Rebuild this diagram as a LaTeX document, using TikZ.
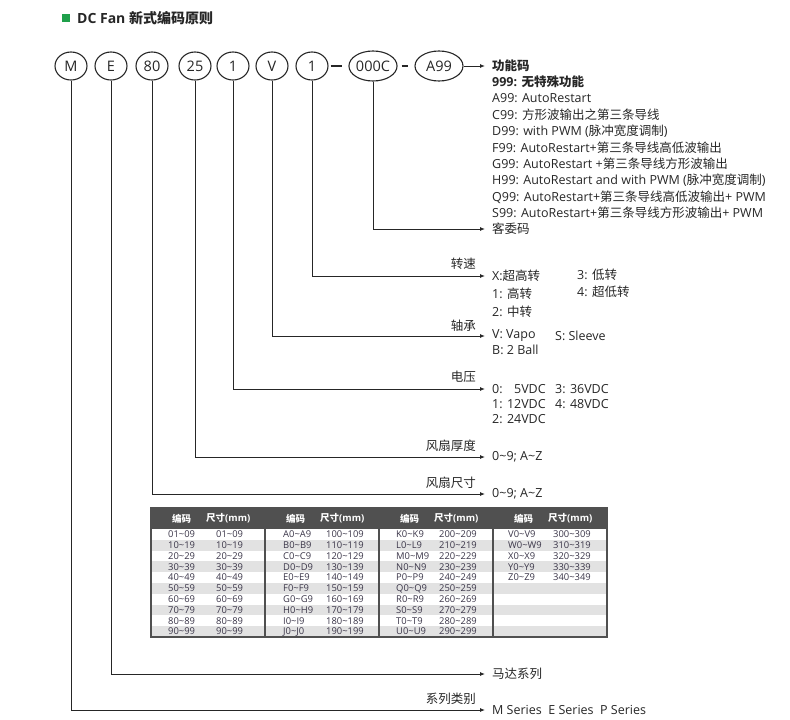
\documentclass[tikz,border=0pt]{standalone}
\usepackage{fontspec}
\setmainfont{Open Sans}
\newfontfamily\cjk{Noto Sans CJK SC}
\usetikzlibrary{arrows.meta, positioning, shapes.geometric}
\definecolor{inkgray}{HTML}{262626}
\definecolor{cellink}{HTML}{3A3548}
\definecolor{headgray}{HTML}{505050}
\definecolor{rowgray}{HTML}{E2E2E2}
\definecolor{markgreen}{HTML}{1FA04B}
\newcommand{\tild}{\textasciitilde}

\begin{document}
\begin{tikzpicture}[x=1pt, y=-1pt,
        >={Latex[length=5pt,width=4pt]},
        codering/.style={draw=inkgray, ellipse, line width=1.1pt, minimum width=32pt, minimum height=28pt, inner sep=0pt, text=inkgray, font=\fontsize{14.5}{14.5}\selectfont},
        widering/.style={codering, minimum width=48pt, minimum height=30pt},
        leader/.style={->, draw=inkgray, line width=0.9pt, shorten >=7pt},
        joiner/.style={draw=inkgray, line width=2pt},
        item/.style={anchor=west, inner xsep=0pt, inner ysep=1pt, text=inkgray, font=\fontsize{12.5}{12.5}\selectfont},
        field/.style={anchor=east, inner sep=0pt, text=inkgray, font=\fontsize{12.5}{12.5}\selectfont\cjk},
        cell/.style={anchor=west, inner sep=0pt, text=cellink, font=\fontsize{9.4}{9.4}\selectfont},
        headcell/.style={cell, text=white, font=\fontsize{9.5}{9.5}\selectfont\bfseries}
    ]
        \useasboundingbox (0,0) rectangle (790,720);

        % Title
        \node[fill=markgreen, minimum size=8pt, inner sep=0pt] (Mark) at (66,18) {};
        \node[anchor=west, inner sep=0pt, text=inkgray, font=\fontsize{14}{14}\selectfont\bfseries] (Title) at (77,18) {DC Fan {\cjk 新式编码原则}};

        % The code itself
        \node[codering] (CodeM) at (71,66) {M};
        \node[codering] (CodeE) at (111,66) {E};
        \node[codering] (Code80) at (152,66) {80};
        \node[codering] (Code25) at (195,66) {25};
        \node[codering] (CodeVolt) at (233,66) {1};
        \node[codering] (CodeV) at (272,66) {V};
        \node[codering] (CodeSpeed) at (312,66) {1};
        \node[widering] (Code000C) at (373,66) {000C};
        \node[widering] (CodeA99) at (439,66) {A99};
        \draw[joiner, shorten <=2pt, shorten >=6pt] (CodeSpeed) -- (Code000C);
        \draw[joiner, shorten <=4pt, shorten >=6pt] (Code000C) -- (CodeA99);

        % Function code
        \node[item, font=\fontsize{12.5}{12.5}\selectfont\cjk\bfseries] (FnTitle) at (492,66) {功能码};
        \foreach \txt [count=\i from 0] in {
            {\bfseries 999: {\cjk 无特殊功能}},
            {A99: AutoRestart},
            {C99: {\cjk 方形波输出之第三条导线}},
            {D99: with PWM ({\cjk 脉冲宽度调制})},
            {F99: AutoRestart+{\cjk 第三条导线高低波输出}},
            {G99: AutoRestart +{\cjk 第三条导线方形波输出}},
            {H99: AutoRestart and with PWM ({\cjk 脉冲宽度调制})},
            {Q99: AutoRestart+{\cjk 第三条导线高低波输出}+ PWM},
            {S99: AutoRestart+{\cjk 第三条导线方形波输出}+ PWM}}
            \node[item] (Fn\i) at (492, 82+\i*16.4) {\txt};
        \node[item, font=\fontsize{12.5}{12.5}\selectfont\cjk] (CustCode) at (492,229) {客委码};
        \draw[leader] (CodeA99) -- (FnTitle);
        \draw[leader] (Code000C) |- (CustCode);

        % Speed
        \node[field] (SpeedLbl) at (476,264) {转速};
        \node[item] (SpeedX) at (492,276) {X:{\cjk 超高转}};
        \node[item] (Speed1) at (492,294) {1: {\cjk 高转}};
        \node[item] (Speed2) at (492,312) {2: {\cjk 中转}};
        \node[item] (Speed3) at (577,275) {3: {\cjk 低转}};
        \node[item] (Speed4) at (577,292) {4: {\cjk 超低转}};
        \draw[leader] (CodeSpeed) |- (SpeedX);

        % Bearing
        \node[field] (BrgLbl) at (476,326) {轴承};
        \node[item] (BrgV) at (492,336) {V: Vapo};
        \node[item] (BrgS) at (555,336) {S: Sleeve};
        \node[item] (BrgB) at (492,350) {B: 2 Ball};
        \draw[leader] (CodeV) |- (BrgV);

        % Voltage
        \node[field] (VoltLbl) at (476,377) {电压};
        \node[item] (Volt0) at (492,389) {0: \phantom{1}5VDC};
        \node[item] (Volt1) at (492,404) {1: 12VDC};
        \node[item] (Volt2) at (492,419) {2: 24VDC};
        \node[item] (Volt3) at (555,389) {3: 36VDC};
        \node[item] (Volt4) at (555,404) {4: 48VDC};
        \draw[leader] (CodeVolt) |- (Volt0);

        % Fan thickness and fan size
        \node[field] (ThickLbl) at (476,446) {风扇厚度};
        \node[item] (Thick) at (492,457) {0\tild 9; A\tild Z};
        \draw[leader] (Code25) |- (Thick);
        \node[field] (SizeLbl) at (476,483) {风扇尺寸};
        \node[item] (Size) at (492,494) {0\tild 9; A\tild Z};
        \draw[leader] (Code80) |- (Size);

        % Size table
        \fill[headgray] (151,508) rectangle (607,529);
        \foreach \r in {2,4,...,10}
            \fill[rowgray] (151,518.2+\r*10.8) rectangle (607,529+\r*10.8);
        \foreach \g in {1,2,3}
            \draw[headgray, line width=1.5pt] (151+114*\g,529) -- (151+114*\g,637);
        \draw[headgray, line width=2pt] (151,508) rectangle (607,637);
        \foreach \g in {0,...,3} {
            \node[headcell] (Head\g a) at (172+114*\g,518.5) {\cjk 编码};
            \node[headcell] (Head\g b) at (206+114*\g,518.5) {{\cjk 尺寸}(mm)};
        }
        \foreach \c/\s [count=\r] in {01\tild 09/01\tild 09, 10\tild 19/10\tild 19, 20\tild 29/20\tild 29, 30\tild 39/30\tild 39, 40\tild 49/40\tild 49, 50\tild 59/50\tild 59, 60\tild 69/60\tild 69, 70\tild 79/70\tild 79, 80\tild 89/80\tild 89, 90\tild 99/90\tild 99} {
            \node[cell] (GaC\r) at (168,523.6+\r*10.8) {\c};
            \node[cell] (GaS\r) at (216,523.6+\r*10.8) {\s};
        }
        \foreach \c/\s [count=\r] in {A0\tild A9/100\tild 109, B0\tild B9/110\tild 119, C0\tild C9/120\tild 129, D0\tild D9/130\tild 139, E0\tild E9/140\tild 149, F0\tild F9/150\tild 159, G0\tild G9/160\tild 169, H0\tild H9/170\tild 179, I0\tild I9/180\tild 189, J0\tild J0/190\tild 199} {
            \node[cell] (GbC\r) at (283,523.6+\r*10.8) {\c};
            \node[cell] (GbS\r) at (326,523.6+\r*10.8) {\s};
        }
        \foreach \c/\s [count=\r] in {K0\tild K9/200\tild 209, L0\tild L9/210\tild 219, M0\tild M9/220\tild 229, N0\tild N9/230\tild 239, P0\tild P9/240\tild 249, Q0\tild Q9/250\tild 259, R0\tild R9/260\tild 269, S0\tild S9/270\tild 279, T0\tild T9/280\tild 289, U0\tild U9/290\tild 299} {
            \node[cell] (GcC\r) at (396,523.6+\r*10.8) {\c};
            \node[cell] (GcS\r) at (439,523.6+\r*10.8) {\s};
        }
        \foreach \c/\s [count=\r] in {V0\tild V9/300\tild 309, W0\tild W9/310\tild 319, X0\tild X9/320\tild 329, Y0\tild Y9/330\tild 339, Z0\tild Z9/340\tild 349} {
            \node[cell] (GdC\r) at (508,523.6+\r*10.8) {\c};
            \node[cell] (GdS\r) at (553,523.6+\r*10.8) {\s};
        }

        % Motor series and series type
        \node[item, font=\fontsize{12.5}{12.5}\selectfont\cjk] (Motor) at (492,674) {马达系列};
        \draw[leader] (CodeE) |- (Motor);
        \node[field] (SeriesLbl) at (476,699) {系列类别};
        \node[item] (Series) at (492,710) {M Series~ E Series~ P Series};
        \draw[leader] (CodeM) |- (Series);

    \end{tikzpicture}
\end{document}
